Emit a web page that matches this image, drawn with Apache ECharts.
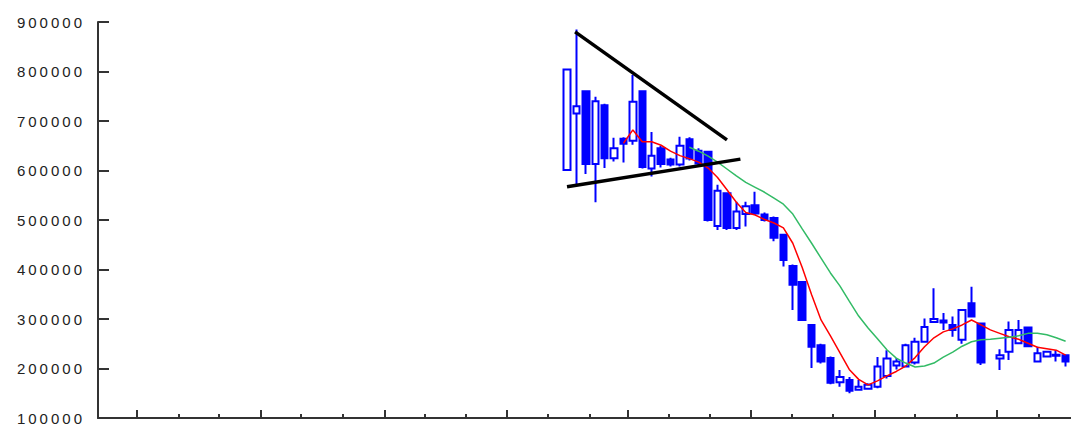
<!DOCTYPE html>
<html>
<head>
<meta charset="utf-8">
<script src="https://cdn.jsdelivr.net/npm/echarts@6/dist/echarts.min.js"></script>
<style>
html,body{margin:0;padding:0;background:#fff;}
#chart{width:1071px;height:431px;}
#chart text{letter-spacing:3px;}
</style>
</head>
<body>
<div id="chart"></div>
<script>
// Weekly candles (week start dates)
const weeks = [
 '2001-01-15','2001-01-22','2001-01-29','2001-02-05','2001-02-12','2001-02-19','2001-02-26',
 '2001-03-05','2001-03-12','2001-03-19','2001-03-26','2001-04-02','2001-04-09','2001-04-16',
 '2001-04-23','2001-04-30','2001-05-07','2001-05-14','2001-05-21','2001-05-28','2001-06-04',
 '2001-06-11','2001-06-18','2001-06-25','2001-07-02','2001-07-09','2001-07-16','2001-07-23',
 '2001-07-30','2001-08-06','2001-08-13','2001-08-20','2001-08-27','2001-09-03','2001-09-10',
 '2001-09-17','2001-09-24','2001-10-01','2001-10-08','2001-10-15','2001-10-22','2001-10-29',
 '2001-11-05','2001-11-12','2001-11-19','2001-11-26','2001-12-03','2001-12-10','2001-12-17',
 '2001-12-24','2001-12-31','2002-01-07','2002-01-14','2002-01-21'
];
const openV  = [601000,715000,760000,613000,732000,625000,664000,660000,760000,604000,645000,622000,612000,663000,640000,638000,488000,554000,484000,512000,530000,511000,504000,470000,407000,375000,288000,247000,221000,172000,177000,157000,159000,163000,185000,206000,204000,212000,254000,294000,297000,288000,258000,332000,291000,null,220000,234000,251000,283000,214000,224000,226000,227000];
const closeV = [804000,730000,613000,740000,625000,645000,654000,739000,607000,630000,613000,612000,650000,624000,614000,500000,559000,484000,517000,528000,513000,500000,464000,419000,369000,298000,244000,214000,171000,183000,155000,163000,167000,204000,220000,214000,247000,254000,284000,300000,293000,278000,318000,305000,212000,null,227000,278000,278000,245000,231000,234000,228000,214000];
const lowV   = [600000,570000,593000,536000,605000,618000,616000,652000,604000,588000,606000,608000,608000,620000,608000,497000,480000,480000,480000,487000,510000,497000,457000,406000,318000,296000,201000,210000,168000,163000,150000,155000,157000,160000,180000,198000,202000,208000,252000,292000,278000,264000,250000,303000,207000,null,197000,217000,249000,243000,212000,222000,214000,204000];
const highV  = [806000,885000,762000,749000,735000,666000,667000,793000,762000,678000,650000,626000,668000,667000,645000,640000,571000,556000,537000,537000,557000,515000,507000,472000,410000,377000,290000,250000,224000,197000,183000,177000,170000,223000,237000,221000,250000,262000,301000,362000,312000,305000,320000,365000,293000,null,239000,295000,298000,285000,244000,236000,237000,229000];
// Moving-average lines (null where not drawn)
const redMA = [null,null,null,null,null,null,655000,682000,658000,658000,651000,639000,630000,624000,617000,605000,586000,561000,536000,515000,510000,501000,494000,484000,453000,404000,349000,298000,266000,232000,198000,178000,167000,175000,185000,194000,205000,222000,244000,262000,274000,280000,288000,298000,288000,278000,271000,264000,259000,251000,243000,240000,237000,227000];
const greenMA = [null,null,null,null,null,null,null,null,null,null,null,null,null,647000,639000,629000,617000,603000,589000,576000,566000,556000,544000,532000,512000,482000,453000,423000,393000,367000,336000,306000,282000,260000,238000,221000,211000,203000,205000,211000,223000,233000,245000,254000,258000,259000,261000,263000,266000,271000,271000,268000,262000,255000];
// Hand-drawn trend lines (date, price)
const trendUpper = [['2001-01-21',880000],['2001-05-14',662000]];
const trendLower = [['2001-01-15',567000],['2001-05-24',623000]];
// Axis ticks
const monthTicks = ['2000-03-01','2000-04-01','2000-05-01','2000-06-01','2000-07-01','2000-08-01','2000-09-01','2000-10-01','2000-11-01','2000-12-01','2001-01-01','2001-02-01','2001-03-01','2001-04-01','2001-05-01','2001-06-01','2001-07-01','2001-08-01','2001-09-01','2001-10-01','2001-11-01','2001-12-01','2002-01-01'];
const quarterTicks = ['2000-03-01','2000-06-01','2000-09-01','2000-12-01','2001-03-01','2001-06-01','2001-09-01','2001-12-01'];
const axisStart = '2000-02-01';
const axisEnd = '2002-01-25';
const yTicks = [100000,200000,300000,400000,500000,600000,700000,800000,900000];

const BASE = Date.UTC(2000,1,1);
function day(s){ const p = s.split('-').map(Number); return (Date.UTC(p[0],p[1]-1,p[2]) - BASE)/86400000; }

const candleData = [];
weeks.forEach((w,i)=>{ if(openV[i]!=null) candleData.push([day(w), openV[i], closeV[i], lowV[i], highV[i]]); });
const redData = []; weeks.forEach((w,i)=>{ if(redMA[i]!=null) redData.push([day(w), redMA[i]]); });
const greenData = []; weeks.forEach((w,i)=>{ if(greenMA[i]!=null) greenData.push([day(w), greenMA[i]]); });
const tl = arr => arr.map(p=>[day(p[0]), p[1]]);

const XMIN = day(axisStart), XMAX = day(axisEnd);
const tickStyle = {color:'#333', width:2};

const chart = echarts.init(document.getElementById('chart'), null, {renderer:'svg'});
chart.setOption({
  animation:false,
  backgroundColor:'#fff',
  grid:{left:98, right:0, top:22, bottom:13, containLabel:false},
  xAxis:[
    {type:'value', min:XMIN, max:XMAX, position:'bottom',
     axisLine:{show:true, onZero:false, lineStyle:{color:'#333', width:2}},
     axisTick:{show:true, inside:true, length:4, lineStyle:tickStyle, customValues: monthTicks.map(day)},
     axisLabel:{show:false}, splitLine:{show:false}},
    {type:'value', min:XMIN, max:XMAX, position:'bottom',
     axisLine:{show:false, onZero:false},
     axisTick:{show:true, inside:true, length:8, lineStyle:tickStyle, customValues: quarterTicks.map(day)},
     axisLabel:{show:false}, splitLine:{show:false}}
  ],
  yAxis:{type:'value', min:yTicks[0], max:yTicks[yTicks.length-1], interval:100000,
     axisLine:{show:true, lineStyle:{color:'#333', width:2}},
     axisTick:{show:true, inside:true, length:11, lineStyle:tickStyle},
     axisLabel:{color:'#222', fontSize:15, fontFamily:'Liberation Sans', margin:13, formatter: v=>String(v)},
     splitLine:{show:false}},
  series:[
    {type:'candlestick', data:candleData, barWidth:7, z:2,
     itemStyle:{color:'#ffffff', color0:'#0000ff', borderColor:'#0000ff', borderColor0:'#0000ff', borderWidth:2}},
    {type:'line', data:redData, showSymbol:false, symbol:'none', z:3, lineStyle:{color:'#ff0000', width:1.5}},
    {type:'line', data:greenData, showSymbol:false, symbol:'none', z:3, lineStyle:{color:'#33bb66', width:1.5}},
    {type:'line', data:tl(trendUpper), showSymbol:false, symbol:'none', z:4, lineStyle:{color:'#000', width:3.5}},
    {type:'line', data:tl(trendLower), showSymbol:false, symbol:'none', z:4, lineStyle:{color:'#000', width:3.5}}
  ]
});
</script>
</body>
</html>
